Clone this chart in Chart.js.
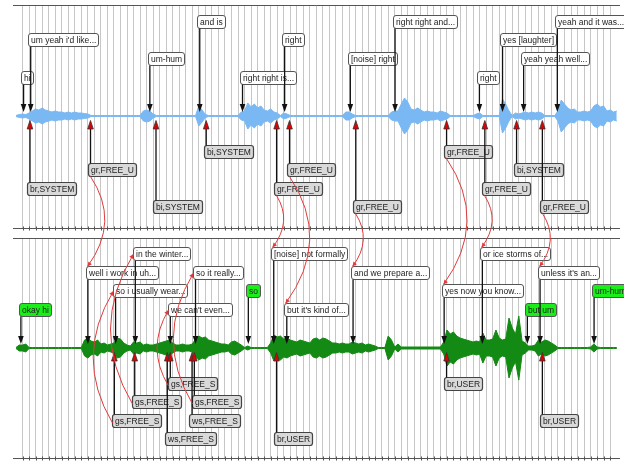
<!DOCTYPE html>
<html>
<head>
<meta charset="utf-8">
<script src="https://cdn.jsdelivr.net/npm/chart.js@4"></script>
<style>
  html, body { margin: 0; padding: 0; background: #fff; }
  canvas { display: block; }
</style>
</head>
<body>
<canvas id="dialogChart" width="624" height="462"></canvas>
<script>
// time axis is in grid units (one vertical grid line per unit), waveform sampled every half unit
const STEP = 0.5;

// system channel (top, blue) - amplitude envelope per half unit
const systemAmp = [
  0.5, 1.5, 2, 1.5, 3, 5, 7, 6, 8, 6,
  5, 4, 5, 4, 4, 3, 4, 3, 4, 3,
  3, 2.5, 2, 0.5, 0.5, 0.5, 0.5, 0.5, 0.5, 0.5,
  0.5, 0.5, 0.5, 0.5, 0.5, 0.5, 0.5, 0.5, 0.5, 5,
  6, 5, 2, 0.5, 0.5, 0.5, 0.5, 0.5, 0.5, 0.5,
  0.5, 0.5, 0.5, 0.5, 0.5, 0.5, 10, 6, 1.5, 0.5,
  0.5, 0.5, 0.5, 0.5, 0.5, 0.5, 0.5, 0.5, 0.5, 4,
  5, 13, 9, 12, 8, 10, 6, 5, 7, 4,
  3, 0.5, 3, 2, 0.5, 0.5, 0.5, 0.5, 0.5, 0.5,
  0.5, 0.5, 0.5, 0.5, 0.5, 0.5, 0.5, 0.5, 0.5, 0.5,
  0.5, 4, 4, 2, 0.5, 0.5, 0.5, 0.5, 0.5, 0.5,
  0.5, 0.5, 0.5, 0.5, 0.5, 4, 5, 5, 12, 18,
  14, 7, 6, 8, 6, 4, 5, 4, 4, 3,
  5, 4, 3, 0.5, 0.5, 0.5, 0.5, 0.5, 0.5, 0.5,
  0.5, 2, 3, 0.5, 0.5, 0.5, 0.5, 0.5, 0.5, 17,
  12, 5, 0.5, 3, 2, 3, 4, 3, 4, 3,
  4, 3, 0.5, 0.5, 0.5, 0.5, 5, 16, 12, 8,
  6, 7, 4, 4, 5, 4, 5, 10, 12, 9,
  10, 5, 6, 4, 5
];

// user channel (bottom, green)
const userAmp = [
  0.5, 3, 3, 4, 0.5, 0.5, 0.5, 0.5, 0.5, 0.5,
  0.5, 0.5, 0.5, 0.5, 0.5, 0.5, 0.5, 0.5, 0.5, 0.5,
  0.5, 8, 10, 7, 6, 8, 4, 5, 3, 4,
  5, 10, 9, 5, 3, 2, 6, 5, 6, 3,
  4, 3, 3, 4, 5, 6, 7, 8, 5, 3,
  3, 4, 3, 3, 4, 9, 12, 10, 11, 8,
  7, 6, 5, 4, 4, 3, 6, 7, 5, 3,
  0.5, 2, 0.5, 0.5, 0.5, 0.5, 0.5, 0.5, 5, 13,
  11, 12, 9, 10, 8, 7, 6, 8, 7, 6,
  5, 9, 10, 8, 10, 9, 7, 5, 5, 4,
  5, 4, 4, 6, 5, 4, 5, 3, 4, 3,
  2, 0.5, 0.5, 0.5, 12, 8, 1, 4, 1, 1,
  1, 1, 1, 1, 1, 1, 1, 1, 1, 1,
  1, 6, 18, 14, 16, 12, 10, 9, 8, 7,
  6, 7, 6, 15, 8, 8, 9, 18, 10, 8,
  9, 30, 20, 14, 32, 7, 5, 2, 2, 3,
  8, 6, 8, 7, 5, 3, 0.5, 0.5, 0.5, 0.5,
  0.5, 0.5, 0.5, 0.5, 0.5, 0.5, 1, 4, 1, 0.5,
  0.5, 0.5, 0.5, 0.5, 0.5
];

// words and dialogue-act tags
const sysWords = ['hi', "um yeah i'd like...", 'um-hum', 'and is', 'right right is...', 'right',
  '[noise] right', 'right right and...', 'right', 'yes [laughter]', 'yeah yeah well...', 'yeah and it was...'];
const sysWordTimes = [1.16, 2.25, 20.5, 28.14, 34.69, 41.14, 51.2, 58.05, 70.97, 74.51, 77.74, 82.9];

const sysTags = ['br,SYSTEM', 'gr,FREE_U', 'bi,SYSTEM', 'bi,SYSTEM', 'gr,FREE_U', 'gr,FREE_U',
  'gr,FREE_U', 'gr,FREE_U', 'gr,FREE_U', 'bi,SYSTEM', 'gr,FREE_U'];
const sysTagTimes = [2.14, 11.41, 21.44, 29.13, 39.91, 41.89, 52.04, 65.94, 71.8, 76.66, 80.61];

const userWords = ['okay hi', 'well i work in uh...', 'so i usually wear...', 'in the winter...',
  "we can't even...", 'so it really...', 'so', '[noise] not formally', "but it's kind of...",
  'and we prepare a...', 'yes now you know...', 'or ice storms of...', 'but um', "unless it's an...", 'um-hum'];
const userWordTimes = [0.75, 11.01, 15.25, 18.27, 23.63, 27.49, 35.58, 39.47, 41.47, 51.62, 65.57, 71.42, 78.31, 80.26, 88.53];
const userWordBackchannel = [true, false, false, false, false, false, true, false, false, false, false, false, true, false, true];

const userTags = ['gs,FREE_S', 'gs,FREE_S', 'ws,FREE_S', 'gs,FREE_S', 'ws,FREE_S', 'gs,FREE_S',
  'br,USER', 'br,USER', 'br,USER'];
const userTagTimes = [15.06, 18.18, 23.17, 23.63, 26.96, 27.31, 39.9, 65.94, 80.61];

// links: system tag -> user word, user tag -> user word
const sysLinkFrom = [1, 4, 5, 6, 7, 8, 10];
const sysLinkTo = [1, 7, 8, 9, 10, 11, 13];
const userLinkFrom = [0, 1, 3, 5];
const userLinkTo = [2, 3, 4, 5];

// layout (y axis is in pixel-sized units)
const SYS_BASE = 115.5, USER_BASE = -116.5;
const SYS_PANEL = [3.5, 226.5], USER_PANEL = [-226.5, -6.5];
const WORD_CYCLE = [0, 2, 1, 3], TAG_CYCLE = [2, 1, 3, 0];
const WORD_OFF = 38.8, TAG_OFF = 35, LEVEL_GAP = 18.6, BOX_H = 13, PAD = 2.5;
const FONT = '8.5px "Liberation Sans", Arial, sans-serif';

function envelope(amps, base, sign) {
  return amps.map((a, i) => ({ x: i * STEP, y: base + sign * a }));
}

function waveSets(amps, base, color) {
  return [
    { data: envelope(amps, base, 1), borderColor: color, backgroundColor: color, borderWidth: 1, fill: '+1' },
    { data: envelope(amps, base, -1), borderColor: color, backgroundColor: color, borderWidth: 1, fill: false }
  ];
}

function makeBoxes(chart, base, texts, times, cycle, off, dir, shift) {
  const { ctx, scales: { x, y } } = chart;
  return texts.map((t, i) => {
    const ax = x.getPixelForValue(times[i]);
    const cy = y.getPixelForValue(base + dir * (off + LEVEL_GAP * cycle[i % 4]));
    const w = Math.round(ctx.measureText(t).width + 2 * PAD);
    return { text: t, ax: ax, x: Math.round(ax - shift) + 0.5, y: Math.round(cy - BOX_H / 2) + 0.5, w: w, h: BOX_H };
  });
}

function drawBox(ctx, b, fill, stroke, lw) {
  const r = 2.5;
  ctx.beginPath();
  ctx.moveTo(b.x + r, b.y);
  ctx.arcTo(b.x + b.w, b.y, b.x + b.w, b.y + b.h, r);
  ctx.arcTo(b.x + b.w, b.y + b.h, b.x, b.y + b.h, r);
  ctx.arcTo(b.x, b.y + b.h, b.x, b.y, r);
  ctx.arcTo(b.x, b.y, b.x + b.w, b.y, r);
  ctx.closePath();
  ctx.fillStyle = fill;
  ctx.fill();
  ctx.lineWidth = lw;
  ctx.strokeStyle = stroke;
  ctx.stroke();
  ctx.fillStyle = '#222';
  ctx.fillText(b.text, b.x + PAD, b.y + b.h / 2 + 0.5);
}

function downArrow(ctx, b, basePx) {
  const tip = basePx - 4, head = 8;
  ctx.strokeStyle = '#111';
  ctx.lineWidth = 1.3;
  ctx.beginPath();
  ctx.moveTo(b.ax, b.y + b.h);
  ctx.lineTo(b.ax, tip - head + 1);
  ctx.stroke();
  ctx.fillStyle = '#111';
  ctx.beginPath();
  ctx.moveTo(b.ax, tip);
  ctx.lineTo(b.ax - 2.8, tip - head);
  ctx.lineTo(b.ax + 2.8, tip - head);
  ctx.closePath();
  ctx.fill();
}

function upArrow(ctx, b, basePx) {
  const tip = basePx + 4.5, head = 8.5;
  ctx.strokeStyle = '#111';
  ctx.lineWidth = 1.3;
  ctx.beginPath();
  ctx.moveTo(b.ax, b.y);
  ctx.lineTo(b.ax, tip + head - 1);
  ctx.stroke();
  ctx.beginPath();
  ctx.moveTo(b.ax, tip);
  ctx.lineTo(b.ax - 2.8, tip + head);
  ctx.lineTo(b.ax + 2.8, tip + head);
  ctx.closePath();
  ctx.fillStyle = '#e00000';
  ctx.fill();
  ctx.lineWidth = 0.8;
  ctx.strokeStyle = '#333';
  ctx.stroke();
}

function link(ctx, p0, p3, bulge) {
  const c = { x: (p0.x + p3.x) / 2 + bulge, y: (p0.y + p3.y) / 2 };
  ctx.strokeStyle = '#e23a3a';
  ctx.lineWidth = 1;
  ctx.beginPath();
  ctx.moveTo(p0.x, p0.y);
  ctx.quadraticCurveTo(c.x, c.y, p3.x, p3.y);
  ctx.stroke();
  const ang = Math.atan2(p3.y - c.y, p3.x - c.x);
  ctx.fillStyle = '#e23a3a';
  ctx.beginPath();
  ctx.moveTo(p3.x, p3.y);
  ctx.lineTo(p3.x - 5 * Math.cos(ang - 0.45), p3.y - 5 * Math.sin(ang - 0.45));
  ctx.lineTo(p3.x - 5 * Math.cos(ang + 0.45), p3.y - 5 * Math.sin(ang + 0.45));
  ctx.closePath();
  ctx.fill();
}

const panels = {
  id: 'panels',
  beforeDatasetsDraw(chart) {
    const { ctx, scales: { x, y } } = chart;
    const left = x.left, right = x.right;
    ctx.save();
    // white gap between the two channels
    const g1 = y.getPixelForValue(SYS_PANEL[0]), g2 = y.getPixelForValue(USER_PANEL[1]);
    ctx.fillStyle = '#fff';
    ctx.fillRect(0, g1, chart.width, g2 - g1);
    ctx.strokeStyle = '#555';
    ctx.lineWidth = 1;
    [SYS_PANEL[1], SYS_PANEL[0], USER_PANEL[1], USER_PANEL[0]].forEach(v => {
      const py = Math.round(y.getPixelForValue(v)) + 0.5;
      ctx.beginPath();
      ctx.moveTo(left, py);
      ctx.lineTo(right, py);
      ctx.stroke();
    });
    // small tick marks on each channel's time axis
    [SYS_PANEL[0], USER_PANEL[0]].forEach(v => {
      const py = Math.round(y.getPixelForValue(v)) + 0.5;
      x.ticks.forEach(t => {
        const px = Math.round(x.getPixelForValue(t.value)) + 0.5;
        ctx.beginPath();
        ctx.moveTo(px, py - 2);
        ctx.lineTo(px, py + 2);
        ctx.stroke();
      });
    });
    ctx.restore();
  },
  afterDatasetsDraw(chart) {
    const { ctx, scales: { y } } = chart;
    ctx.save();
    ctx.font = FONT;
    ctx.textBaseline = 'middle';
    const sysBase = y.getPixelForValue(SYS_BASE), userBase = y.getPixelForValue(USER_BASE);
    const sw = makeBoxes(chart, SYS_BASE, sysWords, sysWordTimes, WORD_CYCLE, WORD_OFF, 1, 2.3);
    const st = makeBoxes(chart, SYS_BASE, sysTags, sysTagTimes, TAG_CYCLE, TAG_OFF, -1, 2.7);
    const uw = makeBoxes(chart, USER_BASE, userWords, userWordTimes, WORD_CYCLE, WORD_OFF, 1, 2.3);
    const ut = makeBoxes(chart, USER_BASE, userTags, userTagTimes, TAG_CYCLE, TAG_OFF, -1, 2.7);

    sw.forEach(b => drawBox(ctx, b, '#fff', '#555', 1));
    uw.forEach((b, i) => drawBox(ctx, b, userWordBackchannel[i] ? '#19ee19' : '#fff', '#555', 1));
    st.forEach(b => drawBox(ctx, b, '#d9d9d9', '#444', 1.2));
    ut.forEach(b => drawBox(ctx, b, '#d9d9d9', '#444', 1.2));

    sw.forEach(b => downArrow(ctx, b, sysBase));
    uw.forEach(b => downArrow(ctx, b, userBase));
    st.forEach(b => upArrow(ctx, b, sysBase));
    ut.forEach(b => upArrow(ctx, b, userBase));

    sysLinkFrom.forEach((s, i) => {
      const a = st[s], e = uw[sysLinkTo[i]];
      const p0 = { x: a.x + 2, y: a.y + a.h }, p3 = { x: e.x + 1, y: e.y };
      link(ctx, p0, p3, 0.35 * (p3.y - p0.y));
    });
    userLinkFrom.forEach((s, i) => {
      const a = ut[s], e = uw[userLinkTo[i]];
      const p0 = { x: a.x, y: a.y + a.h / 2 + 2 }, p3 = { x: e.x, y: e.y + e.h / 2 };
      link(ctx, p0, p3, -0.3 * (p0.y - p3.y));
    });
    ctx.restore();
  }
};

const ctx = document.getElementById('dialogChart').getContext('2d');
const dialogChart = new Chart(ctx, {
  type: 'line',
  data: {
    datasets: [
      ...waveSets(systemAmp, SYS_BASE, '#7ab8f4'),
      ...waveSets(userAmp, USER_BASE, '#138a13')
    ]
  },
  options: {
    responsive: false,
    animation: false,
    layout: { padding: { left: 13, right: 4, top: 5, bottom: 4 } },
    elements: { point: { radius: 0 }, line: { tension: 0 } },
    plugins: { legend: { display: false }, tooltip: { enabled: false } },
    scales: {
      x: {
        type: 'linear',
        min: -0.46,
        max: 92.5,
        ticks: { display: false, stepSize: 1 },
        afterBuildTicks: s => { s.ticks = s.ticks.filter(t => Number.isInteger(t.value)); },
        grid: { color: '#c6c6c6', lineWidth: 1, drawTicks: false },
        border: { display: false }
      },
      y: { display: false, min: -226.5, max: 226.5 }
    }
  },
  plugins: [panels]
});
</script>
</body>
</html>
